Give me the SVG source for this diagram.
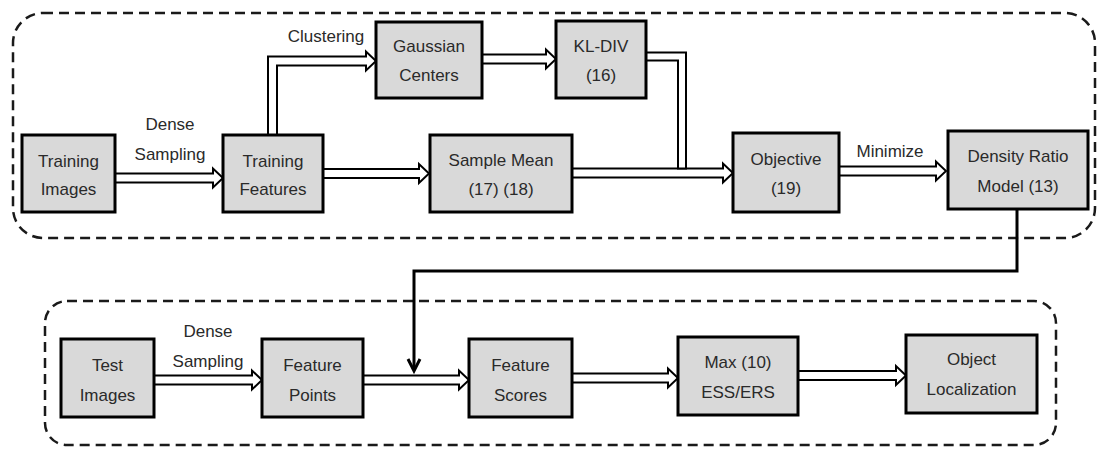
<svg xmlns="http://www.w3.org/2000/svg" width="1098" height="449" viewBox="0 0 1098 449">
  <style>
    .frame { fill: none; stroke: #1a1a1a; stroke-width: 2.5; stroke-dasharray: 10 6; }
    .box { fill: #d9d9d9; stroke: #000; stroke-width: 3; }
    .txt { font-family: "Liberation Sans", Arial, sans-serif; font-size: 17px; fill: #2a2a2a; text-anchor: middle; }
    .hollow { fill: #fff; stroke: #000; stroke-width: 2; stroke-linejoin: miter; }
    .link { fill: none; stroke: #000; stroke-width: 3; }
  </style>
  <rect width="1098" height="449" fill="#fff"/>

  <!-- stage frames: training (top) and testing (bottom) -->
  <g id="frames">
    <rect class="frame" x="13" y="13" width="1082" height="225" rx="30" ry="30"/>
    <rect class="frame" x="45" y="301" width="1011" height="144" rx="22" ry="22"/>
  </g>

  <!-- connectors -->
  <g id="connectors">
    <!-- Training Images -> Training Features -->
    <path class="hollow" d="M115,173.5 H213 V168.5 L223,178 L213,187.5 V182.5 H115 Z"/>
    <!-- Training Features -> Sample Mean -->
    <path class="hollow" d="M323,169 H419 V164 L429,173.5 L419,183 V178 H323 Z"/>
    <!-- Sample Mean -> Objective -->
    <path class="hollow" d="M572,168.5 H723 V163.5 L733,173 L723,182.5 V177.5 H572 Z"/>
    <!-- Objective -> Density Ratio Model -->
    <path class="hollow" d="M839,166.5 H936 V161.5 L946,171 L936,180.5 V175.5 H839 Z"/>
    <!-- Gaussian Centers -> KL-DIV -->
    <path class="hollow" d="M482,54.5 H546 V49.5 L556,59 L546,68.5 V63.5 H482 Z"/>
    <!-- Training Features -> Gaussian Centers (clustering) -->
    <path class="hollow" d="M268,137 V56.5 H366 V51.5 L376,61 L366,70.5 V65.5 H277 V137"/>
    <!-- KL-DIV joins the Sample Mean -> Objective line -->
    <path class="hollow" d="M646,52.5 H686 V168.5 H678 V60.5 H646"/>
    <!-- Density Ratio Model feeds the test pipeline -->
    <path class="link" d="M1017,209 V271 H414 V370"/>
    <polyline class="link" points="408,359 414,371 420,359"/>
    <!-- Test Images -> Feature Points -->
    <path class="hollow" d="M154,375.5 H252 V370.5 L262,380 L252,389.5 V384.5 H154 Z"/>
    <!-- Feature Points -> Feature Scores -->
    <path class="hollow" d="M363,375.5 H459 V370.5 L469,380 L459,389.5 V384.5 H363 Z"/>
    <!-- Feature Scores -> Max -->
    <path class="hollow" d="M572,373.5 H668 V368.5 L678,378 L668,387.5 V382.5 H572 Z"/>
    <!-- Max -> Object Localization -->
    <path class="hollow" d="M798,371 H896 V366 L906,375.5 L896,385 V380 H798 Z"/>
  </g>

  <!-- edge labels -->
  <g id="labels">
    <text class="txt" x="326" y="42">Clustering</text>
    <text class="txt" x="170" y="130">Dense</text>
    <text class="txt" x="170" y="160">Sampling</text>
    <text class="txt" x="890" y="157">Minimize</text>
    <text class="txt" x="208" y="337">Dense</text>
    <text class="txt" x="208" y="367">Sampling</text>
  </g>

  <!-- training nodes -->
  <g id="training-images">
    <rect class="box" x="22" y="135" width="93" height="77"/>
    <text class="txt" x="68.5" y="167">Training</text>
    <text class="txt" x="68.5" y="195">Images</text>
  </g>
  <g id="training-features">
    <rect class="box" x="223" y="135" width="100" height="77"/>
    <text class="txt" x="273" y="167">Training</text>
    <text class="txt" x="273" y="195">Features</text>
  </g>
  <g id="gaussian-centers">
    <rect class="box" x="376" y="22" width="106" height="76"/>
    <text class="txt" x="429" y="52">Gaussian</text>
    <text class="txt" x="429" y="81">Centers</text>
  </g>
  <g id="kl-div">
    <rect class="box" x="556" y="21" width="90" height="77"/>
    <text class="txt" x="601" y="52">KL-DIV</text>
    <text class="txt" x="601" y="81">(16)</text>
  </g>
  <g id="sample-mean">
    <rect class="box" x="430" y="135" width="142" height="77"/>
    <text class="txt" x="501" y="166">Sample Mean</text>
    <text class="txt" x="501" y="195">(17) (18)</text>
  </g>
  <g id="objective">
    <rect class="box" x="733" y="133" width="106" height="79"/>
    <text class="txt" x="786" y="165">Objective</text>
    <text class="txt" x="786" y="194">(19)</text>
  </g>
  <g id="density-ratio-model">
    <rect class="box" x="948" y="131" width="140" height="78"/>
    <text class="txt" x="1018" y="162">Density Ratio</text>
    <text class="txt" x="1018" y="192">Model (13)</text>
  </g>

  <!-- test nodes -->
  <g id="test-images">
    <rect class="box" x="61" y="339" width="93" height="78"/>
    <text class="txt" x="107.5" y="371">Test</text>
    <text class="txt" x="107.5" y="401">Images</text>
  </g>
  <g id="feature-points">
    <rect class="box" x="262" y="339" width="101" height="78"/>
    <text class="txt" x="312.5" y="371">Feature</text>
    <text class="txt" x="312.5" y="401">Points</text>
  </g>
  <g id="feature-scores">
    <rect class="box" x="469" y="339" width="103" height="78"/>
    <text class="txt" x="520.5" y="371">Feature</text>
    <text class="txt" x="520.5" y="401">Scores</text>
  </g>
  <g id="max-ess-ers">
    <rect class="box" x="678" y="337" width="120" height="78"/>
    <text class="txt" x="738" y="368">Max (10)</text>
    <text class="txt" x="738" y="398">ESS/ERS</text>
  </g>
  <g id="object-localization">
    <rect class="box" x="906" y="335" width="131" height="78"/>
    <text class="txt" x="971.5" y="365">Object</text>
    <text class="txt" x="971.5" y="395">Localization</text>
  </g>
</svg>
